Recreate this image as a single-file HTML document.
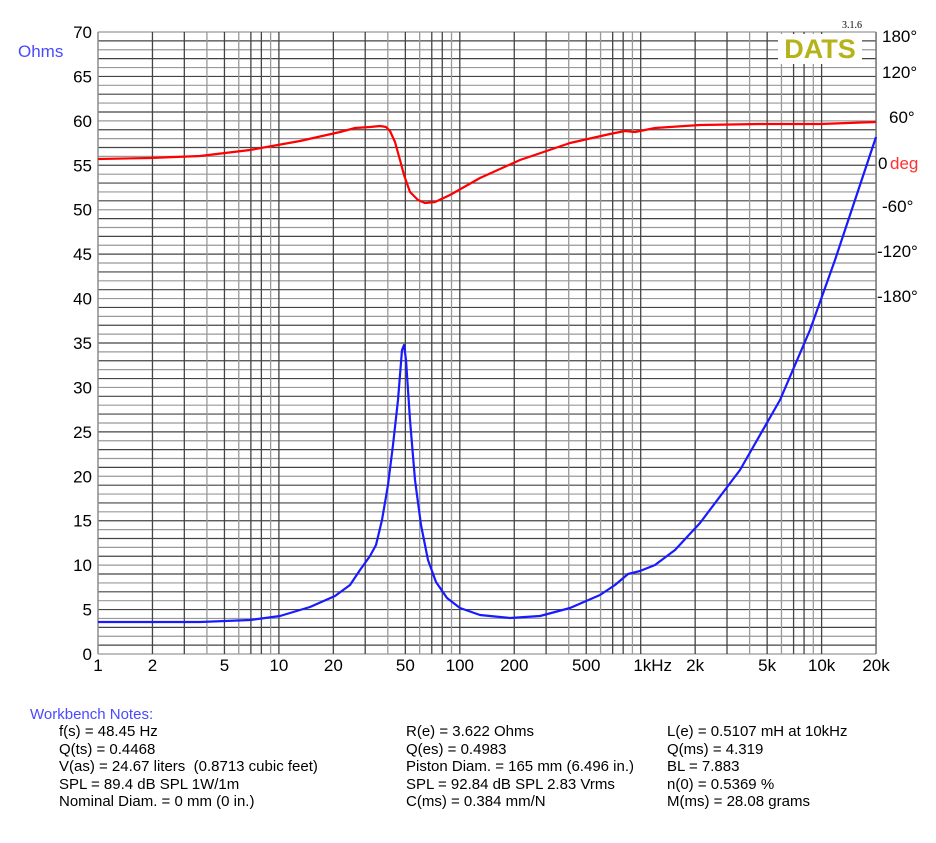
<!DOCTYPE html>
<html><head><meta charset="utf-8"><style>
body{margin:0;background:#fff;width:936px;height:843px;overflow:hidden;font-family:"Liberation Sans",sans-serif}
svg{position:absolute;left:0;top:0}
.n{position:absolute;font-size:15px;color:#000;line-height:17.5px;white-space:pre}
</style></head><body>
<svg id="s" width="936" height="843" xmlns="http://www.w3.org/2000/svg" font-family="Liberation Sans, sans-serif">
<g id="grid"></g>
<rect x="778" y="34" width="84" height="30" fill="#fff"/>
<text x="820" y="58" font-size="27" font-weight="bold" fill="#b5b21a" text-anchor="middle">DATS</text>
<text x="852" y="28" font-size="10" font-family="Liberation Serif, serif" fill="#000" text-anchor="middle">3.1.6</text>
<text x="18" y="57" font-size="17" fill="#4a4aff">Ohms</text>
<g id="lab" font-size="17" fill="#000"></g>
<polyline fill="none" stroke="#ff0000" stroke-width="2.2" stroke-linejoin="round" points="98,159 150,158 200,156 250,150 300,141 340,132 355,128 370,127 380,126 386,127 390,131 395,142 400,160 404,175 410,192 418,200 425,203 435,202 450,195 480,178 520,160 570,143 610,134 625,131 635,132 645,130 655,128 700,125 760,124 820,124 876,122"/>
<polyline fill="none" stroke="#1a1aff" stroke-width="2.2" stroke-linejoin="round" points="98,622 200,622 250,620 280,616 310,607 335,596 350,585 360,570 370,556 376,545 382,520 388,485 393,445 398,400 402,350 404,345 406,360 410,420 415,480 421,525 428,560 436,582 447,598 460,608 480,615 510,618 540,616 570,608 600,595 615,585 628,574 640,571 655,565 675,550 700,523 740,470 780,400 810,330 835,260 855,200 876,137"/>
</svg>
<div class="n" style="left:30px;top:706px;color:#4a4aff">Workbench Notes:</div>
<div class="n" style="left:59px;top:723px">f(s) = 48.45 Hz
Q(ts) = 0.4468
V(as) = 24.67 liters  (0.8713 cubic feet)
SPL = 89.4 dB SPL 1W/1m
Nominal Diam. = 0 mm (0 in.)</div>
<div class="n" style="left:406px;top:723px">R(e) = 3.622 Ohms
Q(es) = 0.4983
Piston Diam. = 165 mm (6.496 in.)
SPL = 92.84 dB SPL 2.83 Vrms
C(ms) = 0.384 mm/N</div>
<div class="n" style="left:667px;top:723px">L(e) = 0.5107 mH at 10kHz
Q(ms) = 4.319
BL = 7.883
n(0) = 0.5369 %
M(ms) = 28.08 grams</div>
<script>
var g=document.getElementById('grid'),lab=document.getElementById('lab'),NS='http://www.w3.org/2000/svg';
function el(p,t,a,txt){var e=document.createElementNS(NS,t);for(var k in a)e.setAttribute(k,a[k]);if(txt!=null)e.textContent=txt;p.appendChild(e);return e;}
var L=98,R=876,T=32,B=654,dec=180.9;
for(var i=0;i<=70;i++){var y=B-i*(B-T)/70;el(g,'line',{x1:L,x2:R,y1:y,y2:y,stroke:(i%2?'#444':'#999'),'stroke-width':1.2});}
for(var d=0;d<5;d++)for(var m=1;m<10;m++){var f=m*Math.pow(10,d);if(f>20000)break;var x=L+Math.log10(f)*dec;el(g,'line',{x1:x,x2:x,y1:T,y2:B,stroke:(m==4||m==6||m==9?'#999':'#444'),'stroke-width':1.3});}
el(g,'line',{x1:R,x2:R,y1:T,y2:B,stroke:'#777','stroke-width':1.3});
el(g,'line',{x1:L,x2:L,y1:T,y2:B,stroke:'#999','stroke-width':1.3});
for(var v=0;v<=70;v+=5){var y=B-v*(B-T)/70;el(lab,'text',{x:92,y:y+6,'text-anchor':'end'},String(v));}
var xl=[[1,'1'],[2,'2'],[5,'5'],[10,'10'],[20,'20'],[50,'50'],[100,'100'],[200,'200'],[500,'500'],[1000,'1kHz'],[2000,'2k'],[5000,'5k'],[10000,'10k'],[20000,'20k']];
xl.forEach(function(a){var x=L+Math.log10(a[0])*dec;if(a[1]=='1kHz')x+=12;el(lab,'text',{x:x,y:671,'text-anchor':'middle'},a[1]);});
var ph=[[37,'180°',882],[73,'120°',882],[118,'60°',889],[207,'-60°',882],[252,'-120°',877],[297,'-180°',877]];
ph.forEach(function(a){el(lab,'text',{x:a[2],y:a[0]+5},a[1]);});
el(lab,'text',{x:878,y:169},'0');
el(lab,'text',{x:890,y:169,fill:'#ff3030'},'deg');
</script>
</body></html>
